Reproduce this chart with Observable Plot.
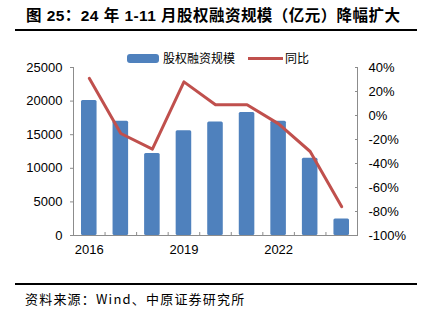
<!DOCTYPE html>
<html><head><meta charset="utf-8">
<script src="https://cdn.jsdelivr.net/npm/d3@7"></script>
<script src="https://cdn.jsdelivr.net/npm/@observablehq/plot@0.6"></script>
<style>
body{margin:0;background:#fff;}
#wrap{position:relative;width:425px;height:321px;overflow:hidden;font-family:"Liberation Sans",Arial,"Noto Sans CJK SC",sans-serif;color:#000;}
#title{position:absolute;left:26px;top:6px;font-size:15.5px;font-weight:bold;white-space:nowrap;line-height:20px;letter-spacing:0.45px;font-family:"Liberation Sans","Noto Sans CJK SC",sans-serif;}
.hr{position:absolute;left:15px;width:402px;background:#000;}
#chart{position:absolute;left:0;top:0;}
.lg{position:absolute;font-size:12px;line-height:14px;white-space:nowrap;font-family:"Noto Sans CJK SC",sans-serif;}
#caption{position:absolute;left:25px;top:290px;font-size:13px;line-height:18px;letter-spacing:1.2px;white-space:nowrap;font-family:"Noto Sans CJK SC","Liberation Sans",sans-serif;}
</style></head>
<body>
<div id="wrap">
  <div id="title">图 25：24 年 1-11 月股权融资规模（亿元）降幅扩大</div>
  <div class="hr" style="top:28.5px;height:2.5px"></div>
  <div id="chart"></div>
  <div style="position:absolute;left:127px;top:53.5px;width:32px;height:9px;border-radius:3px;background:#4f81bd"></div>
  <div class="lg" style="left:163px;top:51px">股权融资规模</div>
  <div style="position:absolute;left:248px;top:56.5px;width:35px;height:3px;background:#c0504d"></div>
  <div class="lg" style="left:285px;top:51px">同比</div>
  <div class="hr" style="top:283px;height:2px"></div>
  <div id="caption">资料来源：Wind、中原证券研究所</div>
</div>
<script>
const years = [2016, 2017, 2018, 2019, 2020, 2021, 2022, 2023, 2024];
const equityScale = [20100, 17000, 12200, 15600, 16900, 18300, 17000, 11500, 2450];
const yoyPct = [31, -15, -28, 28, 9, 9, -7, -30, -76];
const leftTicks = [0, 5000, 10000, 15000, 20000, 25000];
const rightTicks = [-100, -80, -60, -40, -20, 0, 20, 40];
const xLabelYears = [2016, 2019, 2022];

const leftDomain = [0, 25000];
const rightDomain = [-100, 40];
const pctToY = p => (p - rightDomain[0]) / (rightDomain[1] - rightDomain[0]) * (leftDomain[1] - leftDomain[0]) + leftDomain[0];
const yToPct = v => (v - leftDomain[0]) / (leftDomain[1] - leftDomain[0]) * (rightDomain[1] - rightDomain[0]) + rightDomain[0];

const rows = years.map((year, i) => ({year, value: equityScale[i], yoy: yoyPct[i]}));
const boundaries = years.map(y => y - 0.5).concat([years[years.length - 1] + 0.5]);

const axisColor = "#8c8c8c";
const chart = Plot.plot({
  width: 425,
  height: 321,
  marginLeft: 73,
  marginRight: 68,
  marginTop: 67,
  marginBottom: 86,
  style: {fontFamily: "'Liberation Sans', Arial, sans-serif", fontSize: "13px", color: "#000", background: "transparent"},
  x: {domain: [years[0] - 0.5, years[years.length - 1] + 0.5]},
  y: {domain: leftDomain},
  marks: [
    Plot.rectY(rows, {x1: d => d.year - 0.5, x2: d => d.year + 0.5, y: "value", insetLeft: 8, insetRight: 8, fill: "#4f81bd", rx: 1.5}),
    Plot.frame({anchor: "left", stroke: axisColor}),
    Plot.frame({anchor: "right", stroke: axisColor}),
    Plot.frame({anchor: "bottom", stroke: axisColor}),
    Plot.axisY({ticks: leftTicks, tickSize: 3, tickPadding: 8, stroke: axisColor, fill: "#000", tickFormat: d => String(d), label: null}),
    Plot.axisY({anchor: "right", ticks: rightTicks.map(pctToY), tickSize: 3, dx: -3, stroke: axisColor, tickFormat: () => "", label: null}),
    Plot.axisY({anchor: "right", ticks: rightTicks.map(pctToY), tickSize: 0, tickPadding: 11, fill: "#000", tickFormat: v => Math.round(yToPct(v)) + "%", label: null}),
    Plot.axisX({ticks: boundaries, tickSize: 3, dy: -3, stroke: axisColor, tickFormat: () => "", label: null}),
    Plot.axisX({ticks: xLabelYears, tickSize: 0, tickPadding: 9, fill: "#000", tickFormat: d => String(d), label: null}),
    Plot.lineY(rows, {x: "year", y: d => pctToY(d.yoy), stroke: "#c0504d", strokeWidth: 3})
  ]
});
document.getElementById("chart").appendChild(chart);
</script>
</body></html>
